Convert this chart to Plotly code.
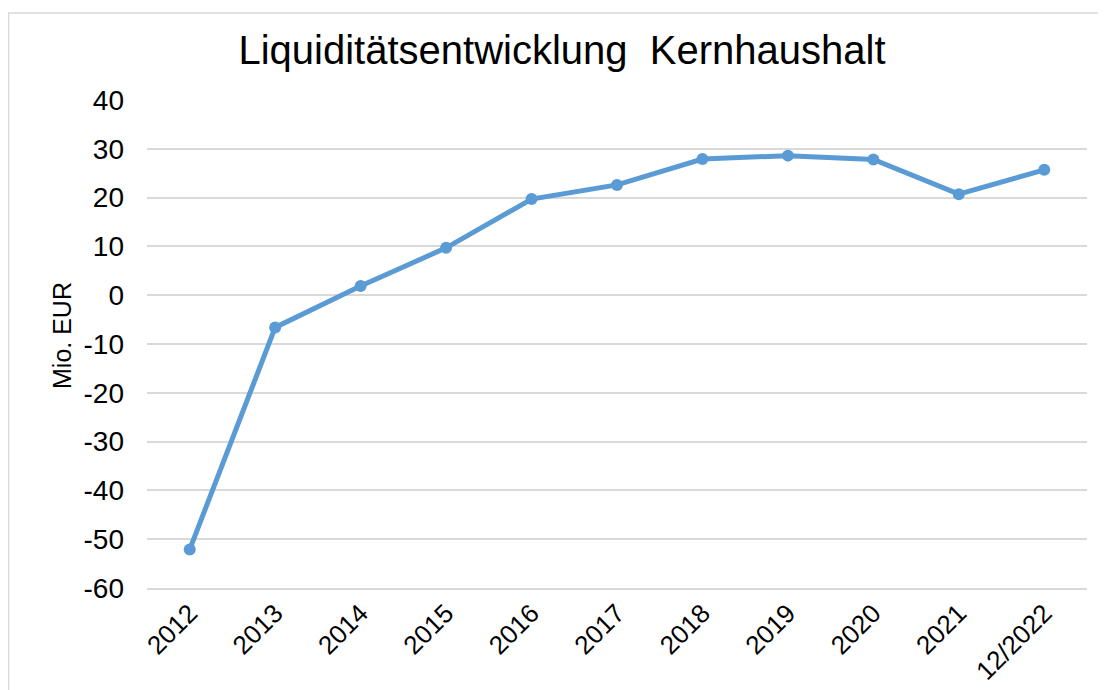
import plotly.graph_objects as go

categories = ["2012", "2013", "2014", "2015", "2016", "2017", "2018", "2019", "2020", "2021", "12/2022"]
values = [-52.1, -6.6, 1.9, 9.7, 19.7, 22.6, 27.9, 28.6, 27.8, 20.7, 25.7]
y_ticks = [-60, -50, -40, -30, -20, -10, 0, 10, 20, 30, 40]

# page has 8px body margin; work in figure pixels = screen pixels - 8
OFF = 8
W, H = 1106 - OFF, 690 - OFF
L, R, T, B = 147 - OFF, 1087 - OFF, 100 - OFF, 588 - OFF


def px_x(sx):
    return (sx - OFF - L) / (R - L)


def px_y(sy):
    return (B - (sy - OFF)) / (B - T)


font_family = "Liberation Sans, Arial, sans-serif"

fig = go.Figure()
fig.add_trace(go.Scatter(
    x=categories, y=values, mode="lines+markers",
    line=dict(color="#5B9BD5", width=5),
    marker=dict(color="#5B9BD5", size=12),
    showlegend=False, hoverinfo="skip",
))

fig.update_layout(
    width=W, height=H,
    margin=dict(l=L, r=W - R, t=T, b=H - B, autoexpand=False),
    paper_bgcolor="white", plot_bgcolor="white",
    font=dict(family=font_family, color="#000000"),
    title=dict(text="Liquiditätsentwicklung  Kernhaushalt", font=dict(size=40, color="#000000"),
               x=px_x(562), xanchor="center", xref="paper",
               y=1 - (50 - OFF) / H, yanchor="middle", yref="container"),
    xaxis=dict(
        type="category", range=[-0.5, len(categories) - 0.5],
        showgrid=False, zeroline=False,
        showline=True, linecolor="#d9d9d9", linewidth=1.5,
        tickangle=-45, tickfont=dict(size=26, color="#000000"),
        ticks="", ticklabelstandoff=-2, automargin=False,
    ),
    yaxis=dict(
        range=[-60, 40], tickvals=y_ticks, ticktext=[str(v) for v in y_ticks],
        showgrid=True, gridcolor="#d9d9d9", gridwidth=1.5,
        zeroline=False, showline=False, ticks="",
        tickfont=dict(size=28, color="#000000"), ticklabelstandoff=22,
        automargin=False,
    ),
)

fig.add_annotation(
    text="Mio. EUR", textangle=-90, showarrow=False,
    xref="paper", yref="paper",
    x=px_x(62), y=px_y(336),
    xanchor="center", yanchor="middle",
    font=dict(size=25, color="#000000"),
)

# chart border
fig.add_shape(
    type="rect", xref="paper", yref="paper",
    x0=px_x(8.5), x1=px_x(1112),
    y0=px_y(696), y1=px_y(13),
    line=dict(color="#d9d9d9", width=1.5), fillcolor="rgba(0,0,0,0)", layer="below",
)

fig.write_html("out.html")
